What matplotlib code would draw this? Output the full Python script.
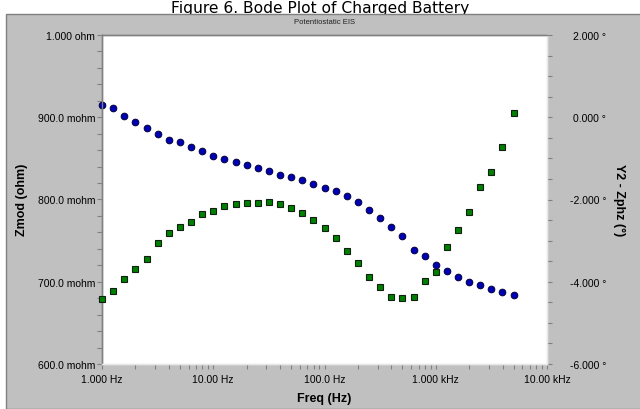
import matplotlib
matplotlib.use('Agg')
import matplotlib.pyplot as plt
from matplotlib.patches import Rectangle
from matplotlib.ticker import FixedLocator, NullFormatter, FixedFormatter

# ---------------- data ----------------
freq_hz = [1.000, 1.259, 1.585, 1.995, 2.512, 3.162, 3.981, 5.012, 6.310, 7.943,
           10.00, 12.59, 15.85, 19.95, 25.12, 31.62, 39.81, 50.12, 63.10, 79.43,
           100.0, 125.9, 158.5, 199.5, 251.2, 316.2, 398.1, 501.2, 631.0, 794.3,
           1000.0, 1259.0, 1585.0, 1995.0, 2512.0, 3162.0, 3981.0, 5012.0]

zmod_ohm = [0.9153, 0.9116, 0.9015, 0.8939, 0.8869, 0.8793, 0.8723, 0.8695, 0.8635, 0.8590,
            0.8533, 0.8489, 0.8456, 0.8423, 0.8387, 0.8343, 0.8298, 0.8277, 0.8233, 0.8188,
            0.8143, 0.8100, 0.8043, 0.7966, 0.7876, 0.7775, 0.7662, 0.7553, 0.7382, 0.7313,
            0.7204, 0.7134, 0.7058, 0.7001, 0.6957, 0.6912, 0.6879, 0.6843]

zphz_deg = [-4.419, -4.218, -3.933, -3.683, -3.439, -3.058, -2.807, -2.676, -2.540, -2.360,
            -2.272, -2.158, -2.117, -2.078, -2.078, -2.053, -2.117, -2.207, -2.321, -2.491,
            -2.700, -2.943, -3.252, -3.544, -3.884, -4.135, -4.378, -4.402, -4.378, -3.974,
            -3.756, -3.162, -2.742, -2.297, -1.689, -1.331, -0.723, 0.103]

freq_ticks = [1, 10, 100, 1000, 10000]
freq_labels = ['1.000 Hz', '10.00 Hz', '100.0 Hz', '1.000 kHz', '10.00 kHz']
zmod_ticks = [0.6, 0.7, 0.8, 0.9, 1.0]
zmod_labels = ['600.0 mohm', '700.0 mohm', '800.0 mohm', '900.0 mohm', '1.000 ohm']
phase_ticks = [-6, -4, -2, 0, 2]
phase_labels = ['-6.000 \u00b0', '-4.000 \u00b0', '-2.000 \u00b0', '0.000 \u00b0', '2.000 \u00b0']

# ---------------- figure ----------------
W, H = 640, 410
fig = plt.figure(figsize=(W / 100, H / 100), dpi=100, facecolor='white')

def fx(px):
    return px / W

def fy(py):
    return 1 - py / H

# gray panel
fig.add_artist(Rectangle((fx(6), 0), fx(641) - fx(6), fy(15), transform=fig.transFigure,
                         facecolor='#C0C0C0', edgecolor='#808080', lw=1.0, zorder=-10))

L, R, T, B = 102, 547, 36, 365
ax = fig.add_axes([fx(L), fy(B), fx(R) - fx(L), fy(T) - fy(B)])
ax.set_facecolor('white')
ax.set_xscale('log')
ax.set_xlim(1, 10000)
ax.set_ylim(0.6, 1.0)

ax2 = ax.twinx()
ax2.set_ylim(-6, 2)

tick_col = '#808080'

# x ticks
minor_x = []
for dec in [1, 10, 100, 1000]:
    for m in range(2, 10):
        minor_x.append(dec * m)
ax.xaxis.set_major_locator(FixedLocator(freq_ticks))
ax.xaxis.set_major_formatter(FixedFormatter(freq_labels))
ax.xaxis.set_minor_locator(FixedLocator(minor_x))
ax.xaxis.set_minor_formatter(NullFormatter())

# left y ticks
ax.yaxis.set_major_locator(FixedLocator(zmod_ticks))
ax.yaxis.set_major_formatter(FixedFormatter(zmod_labels))
ax.yaxis.set_minor_locator(FixedLocator([0.6 + 0.02 * i for i in range(21)]))

# right y ticks
ax2.yaxis.set_major_locator(FixedLocator(phase_ticks))
ax2.yaxis.set_major_formatter(FixedFormatter(phase_labels))
ax2.yaxis.set_minor_locator(FixedLocator([-6 + 0.5 * i for i in range(17)]))

for a in (ax, ax2):
    a.tick_params(which='both', direction='out', length=3.5, width=0.8, color=tick_col)
ax.tick_params(axis='x', which='major', pad=4)
ax.tick_params(axis='y', which='major', pad=1.5)
ax2.tick_params(axis='y', which='major', pad=39)

for lab in ax.get_xticklabels() + ax.get_yticklabels():
    lab.set_fontfamily('Liberation Sans')
    lab.set_fontsize(7.5)
for lab in ax2.get_yticklabels():
    lab.set_fontfamily('Liberation Sans')
    lab.set_fontsize(7.5)
    lab.set_horizontalalignment('right')

# spines: sunken 3D look
for a in (ax, ax2):
    a.spines['top'].set_color('#808080')
    a.spines['left'].set_color('#808080')
    a.spines['right'].set_color('#E8E8E8')
    a.spines['bottom'].set_color('#E8E8E8')
    for s in a.spines.values():
        s.set_linewidth(1.0)

# data
ax.plot(freq_hz, zmod_ohm, linestyle='none', marker='o', ms=4.8,
        mfc='#0000B4', mec='#00003A', mew=0.7, clip_on=False, zorder=3)
ax2.plot(freq_hz, zphz_deg, linestyle='none', marker='s', ms=4.3,
         mfc='#008000', mec='#102010', mew=0.8, clip_on=False, zorder=3)

# texts
fig.text(0.5, fy(12.5), 'Figure 6. Bode Plot of Charged Battery', ha='center', va='baseline',
         family='DejaVu Sans', size=11.2, color='black', zorder=-20)
fig.text(fx(325), fy(22), 'Potentiostatic EIS', ha='center', va='center',
         family='Liberation Sans', size=5.5, color='#202020')
fig.text(fx(324.5), fy(399), 'Freq (Hz)', ha='center', va='center',
         family='Liberation Sans', size=9, weight='bold')
fig.text(fx(22), fy(200), 'Zmod (ohm)', ha='center', va='center', rotation=90,
         family='Liberation Sans', size=9, weight='bold')
fig.text(fx(619), fy(200), 'Y2 - Zphz (\u00b0)', ha='center', va='center', rotation=270,
         family='Liberation Sans', size=9, weight='bold')

fig.savefig('out.png', dpi=100, facecolor='white')
